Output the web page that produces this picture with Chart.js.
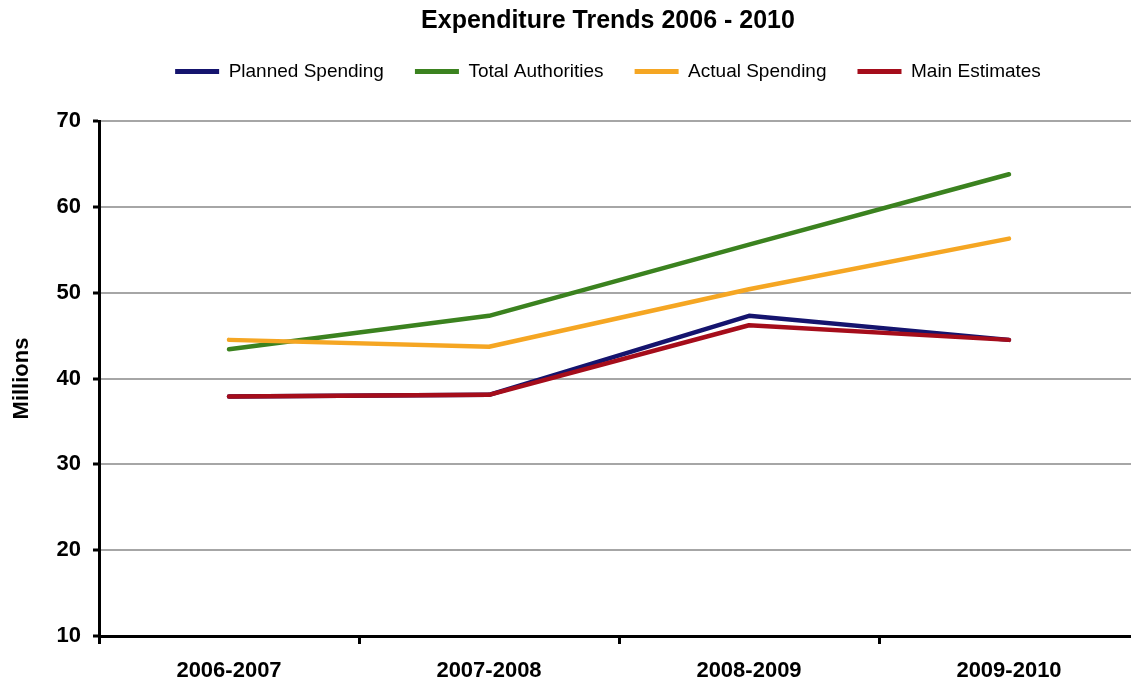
<!DOCTYPE html>
<html>
<head>
<meta charset="utf-8">
<script src="https://cdn.jsdelivr.net/npm/chart.js@4"></script>
<style>
  html, body { margin: 0; padding: 0; background: #ffffff; overflow: hidden; }
  #wrap { width: 1131px; height: 688px; overflow: hidden; position: relative; }
  canvas { display: block; }
</style>
</head>
<body>
<div id="wrap"><canvas id="c" width="1216" height="688"></canvas></div>
<script>
const categories = ['2006-2007', '2007-2008', '2008-2009', '2009-2010'];
const plannedSpending = [37.9, 38.1, 47.3, 44.5];
const totalAuthorities = [43.4, 47.3, 55.6, 63.8];
const actualSpending = [44.5, 43.7, 50.4, 56.3];
const mainEstimates = [37.9, 38.1, 46.2, 44.5];
const yMin = 10, yMax = 70, yStep = 10;

const FONT = "'Liberation Sans', Arial, sans-serif";
Chart.defaults.font.family = FONT;
Chart.defaults.color = '#000';

function series(label, data, color, order) {
  return {
    label, data, order,
    borderColor: color, backgroundColor: color,
    borderWidth: 4.5, pointRadius: 0, pointHoverRadius: 0,
    borderCapStyle: 'round', borderJoinStyle: 'round',
    tension: 0, fill: false
  };
}

new Chart(document.getElementById('c'), {
  type: 'line',
  data: {
    labels: categories,
    datasets: [
      series('Planned Spending', plannedSpending, '#15146e', 3),
      series('Total Authorities', totalAuthorities, '#3b821f', 2),
      series('Actual Spending', actualSpending, '#f5a623', 1),
      series('Main Estimates', mainEstimates, '#a50d1b', 0)
    ]
  },
  options: {
    responsive: false,
    devicePixelRatio: 1,
    animation: false,
    layout: { padding: 0 },
    plugins: {
      tooltip: { enabled: false },
      title: {
        display: true,
        text: 'Expenditure Trends 2006 - 2010',
        color: '#000',
        font: { size: 25, weight: 'bold', lineHeight: 0.8, family: FONT },
        padding: { top: 11, bottom: 0 }
      },
      legend: {
        display: true,
        position: 'top',
        labels: {
          color: '#000',
          font: { size: 19, family: FONT },
          boxWidth: 44,
          boxHeight: 5,
          padding: 31,
          sort: (a, b) => a.datasetIndex - b.datasetIndex,
          generateLabels(chart) {
            return Chart.defaults.plugins.legend.labels.generateLabels(chart).map(it => {
              it.fillStyle = it.strokeStyle;
              it.lineWidth = 0;
              return it;
            });
          }
        }
      }
    },
    scales: {
      x: {
        offset: true,
        grid: { offset: true, drawOnChartArea: false, drawTicks: true, tickLength: 8, tickColor: '#000', tickWidth: 3, color: '#000' },
        border: { color: '#000', width: 3 },
        ticks: { color: '#000', font: { size: 22, weight: 'bold' }, padding: 14, maxRotation: 0, autoSkip: false },
        afterFit(s) { s.height = 52; }
      },
      xTop: {
        type: 'category',
        position: 'top',
        display: true,
        grid: { display: false },
        border: { display: false },
        ticks: { display: false },
        afterFit(s) { s.height = 30; }
      },
      y: {
        min: yMin, max: yMax,
        ticks: { stepSize: yStep, color: '#000', font: { size: 22, weight: 'bold' }, padding: 12 },
        grid: {
          color: ctx => (ctx.tick && ctx.tick.value === yMin) ? '#000' : '#a6a6a6',
          lineWidth: 2, drawTicks: true, tickLength: 6, tickColor: '#000', tickWidth: 3
        },
        border: { color: '#000', width: 3 },
        title: { display: true, text: 'Millions', color: '#000', font: { size: 22, weight: 'bold' }, padding: { top: 9, bottom: 0 } },
        afterFit(s) { s.width = 99; }
      },
      y2: {
        position: 'right',
        display: true,
        grid: { display: false },
        border: { display: false },
        ticks: { display: false },
        afterFit(s) { s.width = 77; }
      }
    }
  }
});
</script>
</body>
</html>
